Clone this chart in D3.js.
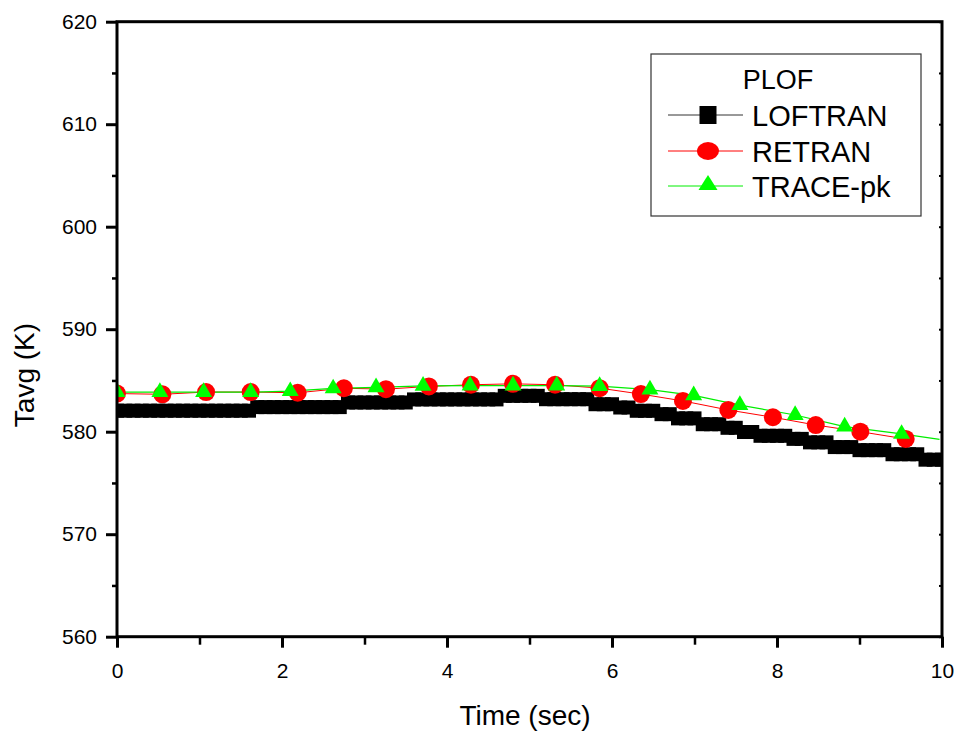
<!DOCTYPE html>
<html>
<head>
<meta charset="utf-8">
<script src="https://cdn.jsdelivr.net/npm/d3@7"></script>
<style>
  body { margin: 0; background: #fff; }
  svg { display: block; font-family: "Liberation Sans", Arial, sans-serif; }
</style>
</head>
<body>
<svg id="chart" width="957" height="736"></svg>
<script>
// ---- Data: average coolant temperature during the PLOF transient ----
const loftranTime = [
  0.0, 0.1, 0.2, 0.3, 0.4, 0.5, 0.6, 0.7, 0.8, 0.9,
  1.0, 1.1, 1.2, 1.3, 1.4, 1.5, 1.6, 1.7, 1.8, 1.9,
  2.0, 2.1, 2.2, 2.3, 2.4, 2.5, 2.6, 2.7, 2.8, 2.9,
  3.0, 3.1, 3.2, 3.3, 3.4, 3.5, 3.6, 3.7, 3.8, 3.9,
  4.0, 4.1, 4.2, 4.3, 4.4, 4.5, 4.6, 4.7, 4.8, 4.9,
  5.0, 5.1, 5.2, 5.3, 5.4, 5.5, 5.6, 5.7, 5.8, 5.9,
  6.0, 6.1, 6.2, 6.3, 6.4, 6.5, 6.6, 6.7, 6.8, 6.9,
  7.0, 7.1, 7.2, 7.3, 7.4, 7.5, 7.6, 7.7, 7.8, 7.9,
  8.0, 8.1, 8.2, 8.3, 8.4, 8.5, 8.6, 8.7, 8.8, 8.9,
  9.0, 9.1, 9.2, 9.3, 9.4, 9.5, 9.6, 9.7, 9.8, 9.9,
  10.0
];
const loftranTavg = [
  582.05, 582.05, 582.05, 582.05, 582.05, 582.05, 582.05, 582.05, 582.05, 582.05,
  582.05, 582.05, 582.05, 582.05, 582.05, 582.05, 582.05, 582.40, 582.40, 582.40,
  582.40, 582.40, 582.40, 582.40, 582.40, 582.40, 582.40, 582.40, 582.85, 582.85,
  582.85, 582.85, 582.85, 582.85, 582.85, 582.85, 583.15, 583.15, 583.15, 583.15,
  583.15, 583.15, 583.15, 583.15, 583.15, 583.15, 583.15, 583.50, 583.50, 583.50,
  583.50, 583.50, 583.17, 583.17, 583.17, 583.17, 583.17, 583.17, 582.68, 582.68,
  582.68, 582.36, 582.36, 582.04, 582.04, 582.04, 581.71, 581.71, 581.30, 581.30,
  581.30, 580.73, 580.73, 580.73, 580.38, 580.38, 579.97, 579.97, 579.60, 579.60,
  579.60, 579.60, 579.30, 579.30, 578.96, 578.96, 578.96, 578.50, 578.50, 578.50,
  578.20, 578.20, 578.20, 578.20, 577.80, 577.80, 577.80, 577.80, 577.27, 577.27,
  577.27
];

const retranTime = [0.0, 0.55, 1.08, 1.62, 2.19, 2.75, 3.26, 3.78, 4.29, 4.80,
                    5.31, 5.85, 6.35, 6.86, 7.41, 7.95, 8.47, 9.01, 9.56];
const retranTavg = [583.72, 583.65, 583.87, 583.87, 583.80, 584.24, 584.15, 584.42, 584.58, 584.67,
                    584.58, 584.25, 583.67, 583.00, 582.12, 581.41, 580.65, 580.00, 579.29];

// last TRACE-pk sample carries no symbol
const traceTime = [0.0, 0.52, 1.05, 1.62, 2.10, 2.62, 3.14, 3.71, 4.28, 4.80,
                   5.33, 5.85, 6.46, 6.99, 7.55, 8.22, 8.82, 9.51, 9.97];
const traceTavg = [583.86, 583.86, 583.86, 583.86, 583.95, 584.22, 584.33, 584.47, 584.50, 584.50,
                   584.50, 584.45, 584.10, 583.55, 582.60, 581.63, 580.50, 579.78, 579.26];

const xMajor = [0, 2, 4, 6, 8, 10];
const xMinor = [1, 3, 5, 7, 9];
const yMajor = [560, 570, 580, 590, 600, 610, 620];
const yMinor = [565, 575, 585, 595, 605, 615];

const legendTitle = "PLOF";
const seriesNames = ["LOFTRAN", "RETRAN", "TRACE-pk"];
const xTitle = "Time (sec)";
const yTitle = "Tavg (K)";

// ---- Layout ----
const svg = d3.select("#chart");
const plot = { left: 117, right: 942, top: 21.7, bottom: 636.7 };

const x = d3.scaleLinear().domain([0, 10]).range([plot.left, plot.right]);
const y = d3.scaleLinear().domain([560, 620]).range([plot.bottom, plot.top]);

svg.append("defs").append("clipPath").attr("id", "plotClip")
  .append("rect")
  .attr("x", plot.left).attr("y", plot.top)
  .attr("width", plot.right - plot.left).attr("height", plot.bottom - plot.top);

const pairs = (ts, vs) => ts.map((t, i) => ({ t, v: vs[i] }));
const loftran = pairs(loftranTime, loftranTavg);
const retran = pairs(retranTime, retranTavg);
const trace = pairs(traceTime, traceTavg);

const line = d3.line().x(d => x(d.t)).y(d => y(d.v));
const g = svg.append("g").attr("clip-path", "url(#plotClip)");

// connecting lines
g.append("path").datum(loftran).attr("d", line)
  .attr("fill", "none").attr("stroke", "#000").attr("stroke-width", 1);
g.append("path").datum(retran).attr("d", line)
  .attr("fill", "none").attr("stroke", "#ff0000").attr("stroke-width", 1);
g.append("path").datum(trace).attr("d", line)
  .attr("fill", "none").attr("stroke", "#00ee00").attr("stroke-width", 1.2);

// symbols
const sq = 14;
g.selectAll("rect.lof").data(loftran).join("rect").attr("class", "lof")
  .attr("x", d => x(d.t) - sq / 2).attr("y", d => y(d.v) - sq / 2)
  .attr("width", sq).attr("height", sq).attr("fill", "#000");

g.selectAll("circle.ret").data(retran).join("circle").attr("class", "ret")
  .attr("cx", d => x(d.t)).attr("cy", d => y(d.v)).attr("r", 9)
  .attr("fill", "#ff0000");

const tri = d3.symbol().type(d3.symbolTriangle).size(125);
g.selectAll("path.trc").data(trace.slice(0, trace.length - 1)).join("path").attr("class", "trc")
  .attr("d", tri)
  .attr("transform", d => `translate(${x(d.t)},${y(d.v)})`)
  .attr("fill", "#00ff00");

// ---- Axes ----
function styleAxis(sel, w) {
  sel.select(".domain").remove();
  sel.selectAll(".tick line").attr("stroke", "#000").attr("stroke-width", w);
  sel.selectAll(".tick text").attr("fill", "#000").attr("font-size", 21)
    .attr("font-family", "Liberation Sans, Arial, sans-serif");
}

svg.append("g").attr("transform", `translate(${plot.left},0)`)
  .call(d3.axisLeft(y).tickValues(yMinor).tickSize(5).tickFormat(""))
  .call(s => styleAxis(s, 2.5));
svg.append("g").attr("transform", `translate(${plot.left},0)`)
  .call(d3.axisLeft(y).tickValues(yMajor).tickSize(11).tickPadding(9).tickFormat(d3.format("d")))
  .call(s => styleAxis(s, 3));

svg.append("g").attr("transform", `translate(0,${plot.bottom})`)
  .call(d3.axisBottom(x).tickValues(xMinor).tickSize(8).tickFormat(""))
  .call(s => styleAxis(s, 2.5));
svg.append("g").attr("transform", `translate(0,${plot.bottom})`)
  .call(d3.axisBottom(x).tickValues(xMajor).tickSize(11).tickPadding(15).tickFormat(d3.format("d")))
  .call(s => styleAxis(s, 3));

// small inward ticks on the right edge
svg.append("g").attr("transform", `translate(${plot.right},0)`)
  .call(d3.axisLeft(y).tickValues(yMajor.concat(yMinor)).tickSize(3).tickFormat(""))
  .call(s => styleAxis(s, 2));

// frame
svg.append("rect")
  .attr("x", plot.left).attr("y", plot.top)
  .attr("width", plot.right - plot.left).attr("height", plot.bottom - plot.top)
  .attr("fill", "none").attr("stroke", "#000").attr("stroke-width", 3);

// axis titles
svg.append("text").attr("x", 525).attr("y", 725)
  .attr("text-anchor", "middle").attr("font-size", 28).attr("fill", "#000")
  .text(xTitle);
svg.append("text")
  .attr("transform", "translate(34,375) rotate(-90)")
  .attr("text-anchor", "middle").attr("font-size", 28).attr("fill", "#000")
  .text(yTitle);

// ---- Legend ----
const lg = svg.append("g");
lg.append("rect").attr("x", 651).attr("y", 54).attr("width", 270).attr("height", 162)
  .attr("fill", "#fff").attr("stroke", "#333").attr("stroke-width", 1.2);
lg.append("text").attr("x", 778).attr("y", 89).attr("text-anchor", "middle")
  .attr("font-size", 27).attr("fill", "#000").text(legendTitle);

const rowY = [115, 151, 186];
const rowColor = ["#333", "#ff0000", "#00ee00"];
rowY.forEach((ry, i) => {
  lg.append("line").attr("x1", 668).attr("x2", 743).attr("y1", ry).attr("y2", ry)
    .attr("stroke", rowColor[i]).attr("stroke-width", 1);
  lg.append("text").attr("x", 752).attr("y", ry + 11)
    .attr("font-size", 29).attr("fill", "#000").text(seriesNames[i]);
});
lg.append("rect").attr("x", 708 - 8.5).attr("y", rowY[0] - 9).attr("width", 17).attr("height", 18)
  .attr("fill", "#000");
lg.append("ellipse").attr("cx", 708).attr("cy", rowY[1]).attr("rx", 11).attr("ry", 9)
  .attr("fill", "#ff0000");
lg.append("path")
  .attr("d", `M${708},${rowY[2] - 11} L${708 + 9.5},${rowY[2] + 4} L${708 - 9.5},${rowY[2] + 4} Z`)
  .attr("fill", "#00ff00");
</script>
</body>
</html>
